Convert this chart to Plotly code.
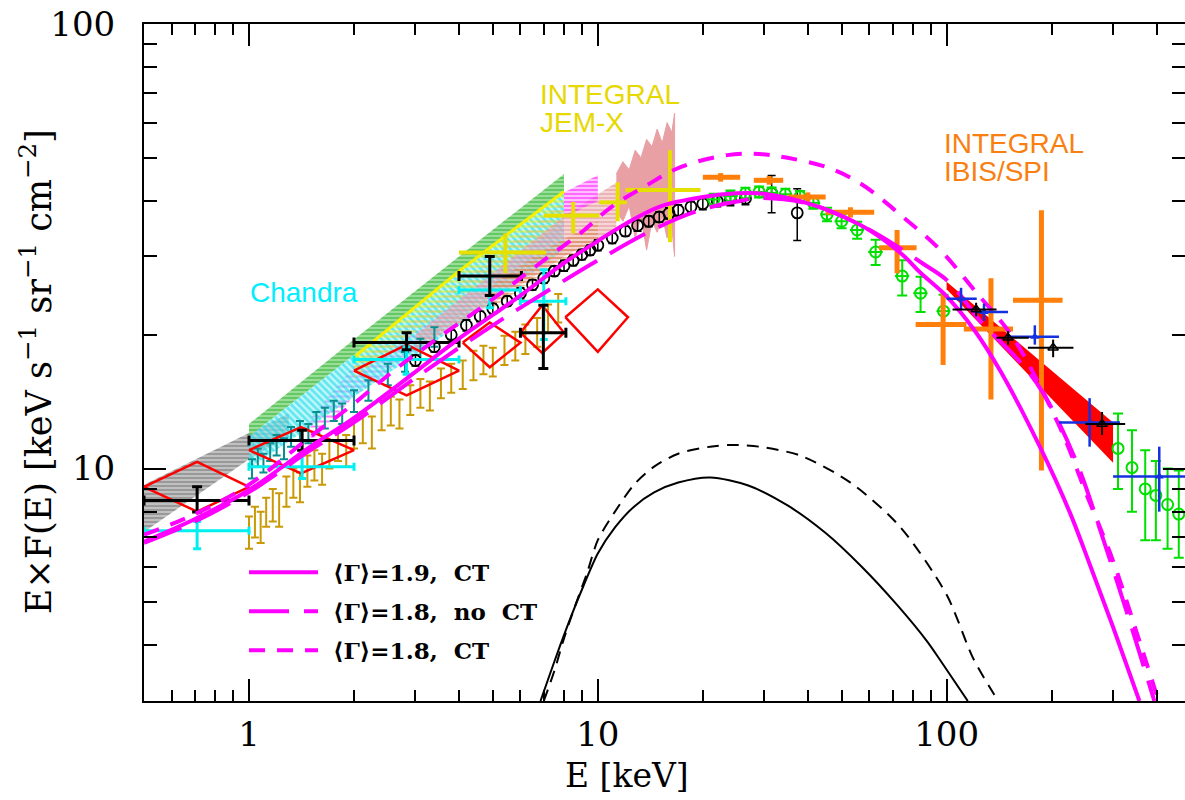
import plotly.graph_objects as go

# ---------------- data ----------------
# hatched bands: x, lower edge, upper edge
gray_x = [0.5, 1.0, 1.3]
gray_lo = [7.2, 10.5, 11.8]
gray_hi = [9.2, 12.0, 13.3]

green_x = [1.0, 2.0, 4.0, 8.0]
green_lo = [11.8, 18.0, 27.5, 42.0]
green_hi = [12.6, 19.5, 30.0, 46.0]

magband_x = [1.5, 2.0, 4.0, 8.0]
magband_lo = [11.5, 14.5, 22.0, 34.0]
magband_hi = [13.0, 17.0, 26.0, 40.0]

cyan_x = [1.0, 2.0, 4.0, 8.0]
cyan_lo = [10.0, 14.5, 21.0, 31.0]
cyan_hi = [11.8, 18.0, 27.5, 42.0]

yellow_x = [2.0, 4.0, 8.0]
yellow_lo = [16.0, 24.0, 36.0]
yellow_hi = [17.8, 27.8, 42.0]

salmon_x = [3.0, 5.0, 8.0, 11.3]
salmon_lo = [18.5, 23.5, 30.0, 34.5]
salmon_hi = [20.0, 27.5, 37.0, 44.0]

orangeband_x = [5.0, 7.0, 10.0]
orangeband_lo = [23.0, 27.5, 32.0]
orangeband_hi = [26.0, 31.0, 36.0]

maghatch_x = [8.0, 10.0]
maghatch_lo = [36.8, 40.0]
maghatch_hi = [41.8, 45.7]

pink_x = [11.3, 11.8, 12.3, 12.8, 13.3, 13.8, 14.3, 14.8, 15.3, 15.8, 16.3, 16.6]
pink_lo = [38.0, 36.0, 39.0, 33.0, 37.0, 31.0, 36.0, 34.0, 37.0, 33.0, 35.0, 30.0]
pink_hi = [46.0, 49.0, 47.0, 52.0, 50.0, 55.0, 53.0, 58.0, 54.0, 60.0, 57.0, 63.0]

redband_x = [100, 300]
redband_lo = [25.3, 10.3]
redband_hi = [26.3, 12.7]

# gold points
gold_x = [1.0, 1.04, 1.08, 1.12, 1.17, 1.22, 1.28, 1.34, 1.4, 1.47, 1.54, 1.62, 1.7, 1.8, 1.9,
          2.0, 2.12, 2.25, 2.4, 2.55, 2.7, 2.9, 3.1, 3.3, 3.55, 3.8, 4.1, 4.4, 4.7, 5.0,
          5.4, 5.8, 6.2, 6.7, 7.2, 7.7]
gold_y = [7.2, 7.6, 7.4, 8.0, 8.3, 8.1, 8.9, 9.3, 9.1, 9.9, 10.2, 10.0, 10.8, 11.3, 11.0,
          12.0, 12.4, 12.1, 13.2, 13.5, 13.3, 14.3, 14.8, 14.6, 15.6, 16.0, 16.3, 17.1, 17.6, 17.4,
          18.5, 18.9, 19.6, 20.3, 21.8, 23.0]
gold_err = [0.6, 0.6, 0.6, 0.6, 0.7, 0.7, 0.7, 0.7, 0.7, 0.8, 0.8, 0.8, 0.8, 0.9, 0.9,
            0.9, 1.0, 1.0, 1.0, 1.0, 1.0, 1.1, 1.1, 1.1, 1.2, 1.2, 1.2, 1.3, 1.3, 1.3,
            1.4, 1.4, 1.5, 1.5, 1.6, 1.7]

# teal points
teal_x = [1.02, 1.06, 1.1, 1.15, 1.2, 1.26, 1.32, 1.4, 1.48, 1.56, 1.65, 1.75, 1.85, 2.0, 2.2, 2.5, 2.8, 3.1, 3.4]
teal_y = [10.0, 10.6, 10.3, 10.9, 11.3, 11.1, 11.8, 12.2, 12.0, 12.7, 13.0, 13.5, 13.3, 14.2, 15.0, 16.3, 17.4, 18.6, 19.8]
teal_err = [0.5, 0.5, 0.5, 0.5, 0.6, 0.6, 0.6, 0.6, 0.6, 0.7, 0.7, 0.7, 0.7, 0.8, 0.8, 0.9, 0.9, 1.0, 1.0]

# black open circles
bc_x = [3.0, 3.4, 3.8, 4.2, 4.6, 5.0, 5.5, 6.0, 6.5, 7.0, 7.5, 8.0, 8.5, 9.0, 9.5, 10.0, 11.0, 12.0,
        13.0, 14.0, 15.0, 16.0, 17.0, 18.5, 20.0, 22.0, 24.0, 26.5, 31.5, 37.3]
bc_y = [17.5, 18.8, 20.0, 21.0, 22.0, 22.9, 23.8, 24.8, 25.9, 26.8, 27.8, 28.6, 29.4, 30.3, 31.0, 31.8,
        33.0, 34.2, 35.2, 36.0, 36.8, 37.5, 38.1, 38.8, 39.4, 40.0, 40.3, 40.5, 41.6, 37.6]
bc_err = [0.5, 0.5, 0.5, 0.6, 0.6, 0.6, 0.6, 0.7, 0.7, 0.7, 0.7, 0.8, 0.8, 0.8, 0.8, 0.9, 0.9, 0.9,
          1.0, 1.0, 1.0, 1.1, 1.1, 1.1, 1.2, 1.2, 1.3, 1.3, 4.0, 5.0]

# green open circles
g_x = [21.5, 24, 26.5, 29, 31.5, 34.5, 38, 41.5, 45.4, 50, 55.4, 62.6, 74.6, 84.2, 98,
       310, 340, 371, 398, 430, 463]
g_y = [40.3, 41.0, 41.6, 41.9, 41.7, 41.4, 40.9, 39.6, 37.3, 36.0, 34.4, 30.7, 27.1, 24.8, 22.6,
       11.1, 10.05, 9.0, 8.7, 8.3, 7.9]
g_err_hi = [1.2, 1.2, 1.2, 1.2, 1.2, 1.2, 1.2, 1.2, 1.3, 1.3, 1.5, 2.0, 2.3, 2.2, 2.0,
            2.2, 2.15, 2.0, 1.7, 1.7, 2.0]
g_err_lo = [1.2, 1.2, 1.2, 1.2, 1.2, 1.2, 1.2, 1.2, 1.3, 1.3, 1.5, 2.0, 2.6, 2.3, 1.6,
            2.1, 2.05, 2.1, 1.8, 1.7, 1.6]
g_xerr = [1.0, 1.2, 1.2, 1.2, 1.4, 1.5, 1.7, 1.9, 2.0, 2.3, 2.6, 3.0, 3.5, 4.0, 4.5,
          0, 0, 0, 0, 0, 0]

# red diamonds: centre, x extent, y extent
dia_x = [0.71, 1.41, 2.83, 4.9, 6.93, 10.0]
dia_xlo = [0.5, 1.0, 2.0, 4.1, 6.0, 8.07]
dia_xhi = [1.0, 2.0, 4.0, 6.0, 8.0, 12.2]
dia_y = [9.1, 11.0, 16.6, 19.2, 20.2, 21.9]
dia_ylo = [8.0, 9.75, 14.6, 16.9, 18.2, 18.3]
dia_yhi = [10.35, 12.4, 19.0, 21.3, 23.3, 25.3]

# black crosses
bk_x = [0.71, 1.42, 2.83, 4.9, 6.98]
bk_y = [8.47, 11.56, 19.2, 27.1, 20.2]
bk_xlo = [0.5, 1.0, 2.0, 4.0, 6.0]
bk_xhi = [1.0, 2.0, 4.0, 6.04, 8.1]
bk_ylo = [7.98, 11.0, 18.5, 24.5, 16.8]
bk_yhi = [9.1, 12.2, 20.2, 30.0, 23.3]

# cyan crosses
cy_x = [0.71, 1.42, 2.83, 4.9, 7.0]
cy_y = [7.25, 10.1, 17.6, 25.2, 23.8]
cy_xlo = [0.5, 1.0, 2.0, 4.0, 6.0]
cy_xhi = [1.0, 2.0, 4.0, 6.0, 8.1]
cy_ylo = [6.6, 9.5, 16.3, 23.0, 19.5]
cy_yhi = [7.6, 10.8, 18.8, 27.0, 28.0]

# yellow crosses (INTEGRAL JEM-X)
yx = [5.43, 8.5, 11.4, 16.1]
yy = [30.6, 37.1, 39.7, 42.3]
yx_lo = [4.0, 7.0, 10.1, 12.0]
yx_hi = [7.1, 10.1, 12.1, 19.7]
yy_lo = [27.5, 33.8, 36.0, 32.3]
yy_hi = [33.8, 39.8, 44.0, 52.0]

# orange crosses (INTEGRAL IBIS/SPI)
ox = [22.5, 31.0, 40.0, 53.0, 72.1, 97.7, 134.0, 187.0]
oy = [45.2, 44.5, 40.8, 37.7, 31.4, 21.1, 20.6, 23.9]
ox_lo = [20.0, 28.0, 35.0, 45.0, 64.0, 81.5, 112.0, 155.0]
ox_hi = [25.6, 34.0, 45.0, 62.0, 82.0, 114.0, 155.0, 215.0]
oy_lo = [44.2, 43.5, 39.8, 36.7, 27.5, 17.1, 14.3, 9.9]
oy_hi = [46.2, 45.5, 41.8, 38.7, 34.4, 24.9, 26.8, 38.1]

# blue crosses
bl_x = [110, 128, 179, 257, 407]
bl_y = [24.1, 22.5, 19.8, 12.7, 9.6]
bl_xlo = [100, 121, 150, 210, 300]
bl_xhi = [122, 150, 210, 314, 560]
bl_ylo = [22.8, 21.5, 19.0, 11.2, 8.0]
bl_yhi = [25.5, 23.5, 21.0, 14.4, 11.2]

# black triangles
bt_x = [121.5, 150, 202, 279]
bt_y = [22.8, 19.7, 18.7, 12.6]
bt_xlo = [104, 139, 171, 250]
bt_xhi = [139, 172, 231, 325]
bt_ylo = [22.0, 19.0, 17.8, 11.9]
bt_yhi = [23.6, 20.4, 19.5, 13.4]

# model curves
ms_x = [0.5, 0.7, 1.0, 1.5, 2, 3, 4, 6, 8, 10, 12, 15, 20, 25, 30, 40, 50, 60, 75, 84,
        100, 120, 143, 185, 225, 257, 300, 357]
ms_y = [6.85, 7.7, 8.95, 11.2, 13.0, 16.5, 19.6, 24.5, 29.0, 32.5, 35.5, 38.8, 40.8, 41.6, 41.5,
        39.5, 37.0, 34.4, 30.2, 27.6, 24.4, 20.5, 16.5, 11.2, 8.0, 6.1, 4.4, 3.0]

ml_x = [0.5, 0.7, 1, 1.5, 2, 3, 5, 7, 10, 15, 20, 25.6, 29, 40, 50, 64, 85, 102, 124, 162,
        189, 235, 280, 330, 394]
ml_y = [6.8, 7.6, 8.85, 11.0, 12.7, 16.0, 21.0, 24.8, 29.4, 35.0, 38.3, 40.0, 40.6, 39.5, 37.0,
        33.5, 29.0, 26.2, 21.6, 17.4, 14.8, 10.4, 7.0, 4.7, 3.0]

md_x = [0.5, 0.7, 1, 1.5, 2, 2.6, 3.4, 4.8, 7.2, 8.9, 10.9, 13.5, 17.2, 23.5, 29, 35, 45.4,
        56.6, 75, 96, 120, 155, 211, 251, 300, 350, 405]
md_y = [7.1, 7.9, 9.2, 11.8, 14.0, 16.6, 19.4, 23.5, 29.9, 33.8, 38.7, 42.9, 47.6, 50.7, 51.0,
        50.0, 47.6, 43.8, 36.8, 31.0, 25.2, 19.7, 12.4, 8.8, 6.2, 4.3, 3.0]

bs_x = [6.85, 7.3, 7.8, 8.4, 9.1, 10, 11.2, 12.7, 14.5, 17, 21, 27, 35, 45, 57, 72, 88, 96, 115]
bs_y = [3.0, 3.46, 4.0, 4.67, 5.45, 6.44, 7.37, 8.21, 8.84, 9.30, 9.55, 9.16, 8.26, 7.16, 6.02,
        4.94, 4.08, 3.70, 3.0]

bd_x = [7.0, 7.5, 8.0, 8.6, 9.3, 10, 11.2, 12.7, 14.5, 17, 21, 24, 29, 38, 53, 73.5, 100,
        119, 137, 141]
bd_y = [3.0, 3.5, 4.15, 4.9, 5.8, 6.9, 8.0, 9.2, 10.1, 10.8, 11.2, 11.3, 11.2, 10.7, 9.3,
        7.4, 5.2, 3.75, 3.1, 3.0]

x_ticks = [1, 10, 100]
x_ticklabels = ["1", "10", "100"]
x_minor = [0.6, 0.7, 0.8, 0.9, 2, 3, 4, 5, 6, 7, 8, 9, 20, 30, 40, 50, 60, 70, 80, 90, 200, 300, 400]
y_ticks = [10, 100]
y_ticklabels = ["10", "100"]
y_minor = [4, 5, 6, 7, 8, 9, 20, 30, 40, 50, 60, 70, 80, 90]

legend_labels = ["⟨Γ⟩=1.9,  CT", "⟨Γ⟩=1.8,  no  CT", "⟨Γ⟩=1.8,  CT"]

# ---------------- figure ----------------
fig = go.Figure()


def band(x, lo, hi, color, shape, size=5, solidity=0.45, bg="rgba(0,0,0,0)"):
    fig.add_trace(go.Scatter(
        x=list(x) + list(x)[::-1], y=list(hi) + list(lo)[::-1],
        fill="toself", mode="lines", line=dict(width=0, color=color),
        fillcolor=bg,
        fillpattern=dict(shape=shape, fgcolor=color, bgcolor=bg,
                         size=size, solidity=solidity),
        hoverinfo="skip", showlegend=False))


band(gray_x, gray_lo, gray_hi, "#6e6e6e", "-", 4, 0.55, "#c4c4c4")
band(green_x, green_lo, green_hi, "#22b022", "-", 4, 0.6, "#a6e2a6")
band(magband_x, magband_lo, magband_hi, "#ff00ff", "-", 5, 0.4)
band(cyan_x, cyan_lo, cyan_hi, "#00d8e6", "\\", 5, 0.55, "rgba(150,240,248,0.55)")
band(yellow_x, yellow_lo, yellow_hi, "#f5f000", "-", 5, 0.45)
band(salmon_x, salmon_lo, salmon_hi, "#e08a8f", "-", 4, 0.6, "rgba(240,190,190,0.5)")
band(orangeband_x, orangeband_lo, orangeband_hi, "#d9803a", "-", 4, 0.55)
band(maghatch_x, maghatch_lo, maghatch_hi, "#ff00ff", "-", 4, 0.6, "rgba(255,170,255,0.5)")

# yellow band edge
fig.add_trace(go.Scatter(x=yellow_x, y=yellow_hi, mode="lines",
                         line=dict(color="#f5f000", width=3), hoverinfo="skip", showlegend=False))

# noisy pink spectrum
fig.add_trace(go.Scatter(x=pink_x + pink_x[::-1], y=pink_hi + pink_lo[::-1], fill="toself",
                         mode="lines", line=dict(width=1, color="#e8a0a4"), fillcolor="#e8a0a4",
                         hoverinfo="skip", showlegend=False))


def errpts(x, y, lo=None, hi=None, xlo=None, xhi=None, color="black", thick=2, width=4,
           marker=None, ysym=None, xsym=None):
    kw = {}
    if ysym is not None:
        kw["error_y"] = dict(type="data", array=ysym, color=color, thickness=thick, width=width)
    elif lo is not None:
        kw["error_y"] = dict(type="data", symmetric=False,
                             array=[h - v for h, v in zip(hi, y)],
                             arrayminus=[v - l for v, l in zip(y, lo)],
                             color=color, thickness=thick, width=width)
    if xsym is not None:
        kw["error_x"] = dict(type="data", array=xsym, color=color, thickness=thick, width=0)
    elif xlo is not None:
        kw["error_x"] = dict(type="data", symmetric=False,
                             array=[h - v for h, v in zip(xhi, x)],
                             arrayminus=[v - l for v, l in zip(x, xlo)],
                             color=color, thickness=thick, width=width)
    if marker is None:
        marker = dict(size=1, color=color, opacity=0)
    fig.add_trace(go.Scatter(x=x, y=y, mode="markers", marker=marker, hoverinfo="skip",
                             showlegend=False, **kw))


# gold & teal points
errpts(gold_x, gold_y, ysym=gold_err, color="#c99a06", thick=2, width=4)
errpts(teal_x, teal_y, ysym=teal_err, color="#0a8f8f", thick=2, width=4)

# black open circles
errpts(bc_x, bc_y, ysym=bc_err, color="black", thick=1.5, width=4,
       marker=dict(symbol="circle-open", size=11, color="black", line=dict(width=1.8)))

# red band (high energy)
fig.add_trace(go.Scatter(x=redband_x + redband_x[::-1], y=redband_hi + redband_lo[::-1],
                         fill="toself", mode="lines", line=dict(width=0, color="red"),
                         fillcolor="#ff0000", hoverinfo="skip", showlegend=False))

# red diamonds
dx, dy = [], []
for i in range(len(dia_x)):
    dx += [dia_xlo[i], dia_x[i], dia_xhi[i], dia_x[i], dia_xlo[i], None]
    dy += [dia_y[i], dia_yhi[i], dia_y[i], dia_ylo[i], dia_y[i], None]
fig.add_trace(go.Scatter(x=dx, y=dy, mode="lines", line=dict(color="#ff0000", width=2.5),
                         hoverinfo="skip", showlegend=False))

# green circles
errpts(g_x, g_y, lo=[v - e for v, e in zip(g_y, g_err_lo)], hi=[v + e for v, e in zip(g_y, g_err_hi)],
       xsym=g_xerr, color="#00e000", thick=2, width=5,
       marker=dict(symbol="circle-open", size=11, color="#00e000", line=dict(width=2)))

# crosses
errpts(cy_x, cy_y, cy_ylo, cy_yhi, cy_xlo, cy_xhi, color="#00f0f0", thick=3, width=4)
errpts(yx, yy, yy_lo, yy_hi, yx_lo, yx_hi, color="#e6e000", thick=4, width=0)
errpts(ox, oy, oy_lo, oy_hi, ox_lo, ox_hi, color="#ff7f0a", thick=5, width=0)
errpts(bk_x, bk_y, bk_ylo, bk_yhi, bk_xlo, bk_xhi, color="black", thick=3, width=5)

# model curves
fig.add_trace(go.Scatter(x=bs_x, y=bs_y, mode="lines",
                         line=dict(color="black", width=2, shape="spline", smoothing=0.8),
                         hoverinfo="skip", showlegend=False))
fig.add_trace(go.Scatter(x=bd_x, y=bd_y, mode="lines",
                         line=dict(color="black", width=2, shape="spline", smoothing=0.8, dash="12px,8px"),
                         hoverinfo="skip", showlegend=False))
fig.add_trace(go.Scatter(x=ms_x, y=ms_y, mode="lines", line=dict(color="#ff00ff", width=4, shape="spline"),
                         hoverinfo="skip", showlegend=False))
fig.add_trace(go.Scatter(x=ml_x, y=ml_y, mode="lines",
                         line=dict(color="#ff00ff", width=4, shape="spline", dash="40px,15px"),
                         hoverinfo="skip", showlegend=False))
fig.add_trace(go.Scatter(x=md_x, y=md_y, mode="lines",
                         line=dict(color="#ff00ff", width=4, shape="spline", dash="16px,12px"),
                         hoverinfo="skip", showlegend=False))

# blue crosses and black triangles
errpts(bl_x, bl_y, bl_ylo, bl_yhi, bl_xlo, bl_xhi, color="#1530e0", thick=2.5, width=0,
       marker=dict(symbol="triangle-up", size=8, color="#1530e0"))
errpts(bt_x, bt_y, bt_ylo, bt_yhi, bt_xlo, bt_xhi, color="black", thick=2, width=0,
       marker=dict(symbol="triangle-up-open", size=9, color="black", line=dict(width=1.5)))

# ---------------- layout ----------------
# page pixel geometry of the plot area (page body margin removed in post_script)
L, R, T, B = 144, 1185, 24, 700.7
FIG_W, FIG_H = 1185, 800


def pxx(p):
    return (p - L) / (R - L)


def pxy(p):
    return (B - p) / (B - T)


serif = "DejaVu Serif"
axis_common = dict(type="log", showline=True, linewidth=2, linecolor="black", mirror="ticks",
                   ticks="inside", ticklen=22, tickwidth=2, tickcolor="black", automargin=False,
                   ticklabeloverflow="allow",
                   showgrid=False, zeroline=False, tickfont=dict(family=serif, size=34, color="black"))

fig.update_layout(
    width=FIG_W, height=FIG_H,
    margin=dict(l=L, r=0, t=T, b=FIG_H - B, pad=0, autoexpand=False),
    paper_bgcolor="white", plot_bgcolor="white",
    showlegend=False,
    xaxis=dict(range=[-0.30103, 2.6834], tickvals=x_ticks, ticktext=x_ticklabels,
               minor=dict(tickmode="array", tickvals=x_minor, ticks="inside", ticklen=11,
                          tickwidth=2, tickcolor="black", showgrid=False),
               ticklabelstandoff=2, **axis_common),
    yaxis=dict(range=[0.47712, 2.0], tickvals=y_ticks, ticktext=y_ticklabels,
               minor=dict(tickmode="array", tickvals=y_minor, ticks="inside", ticklen=13,
                          tickwidth=2, tickcolor="black", showgrid=False),
               ticklabelstandoff=20, **axis_common),
)

ann = []
ann.append(dict(text="E [keV]", x=pxx(627), y=pxy(775), xref="paper", yref="paper",
                showarrow=False, font=dict(family=serif, size=33, color="black"),
                xanchor="center", yanchor="middle"))
ann.append(dict(text="E×F(E) [keV s<sup>−1</sup> sr<sup>−1</sup> cm<sup>−2</sup>]",
                x=pxx(36), y=pxy(372), xref="paper", yref="paper", textangle=-90,
                showarrow=False, font=dict(family=serif, size=35, color="black"),
                xanchor="center", yanchor="middle"))
sans = "Liberation Sans"
ann.append(dict(text="Chandra", x=pxx(248), y=pxy(292), xref="paper", yref="paper", showarrow=False,
                font=dict(family=sans, size=28, color="#00eeff"), xanchor="left", yanchor="middle"))
ann.append(dict(text="INTEGRAL", x=pxx(538), y=pxy(94), xref="paper", yref="paper", showarrow=False,
                font=dict(family=sans, size=28, color="#e6d800"), xanchor="left", yanchor="middle"))
ann.append(dict(text="JEM-X", x=pxx(538), y=pxy(122), xref="paper", yref="paper", showarrow=False,
                font=dict(family=sans, size=28, color="#e6d800"), xanchor="left", yanchor="middle"))
ann.append(dict(text="INTEGRAL", x=pxx(942), y=pxy(143), xref="paper", yref="paper", showarrow=False,
                font=dict(family=sans, size=28, color="#f98010"), xanchor="left", yanchor="middle"))
ann.append(dict(text="IBIS/SPI", x=pxx(942), y=pxy(171), xref="paper", yref="paper", showarrow=False,
                font=dict(family=sans, size=28, color="#f98010"), xanchor="left", yanchor="middle"))

shapes = []
leg_y = [572, 611, 650]
leg_dash = ["solid", "40px,15px", "16px,12px"]
for yy_, d, lab in zip(leg_y, leg_dash, legend_labels):
    shapes.append(dict(type="line", xref="paper", yref="paper", x0=pxx(249), x1=pxx(318),
                       y0=pxy(yy_), y1=pxy(yy_), line=dict(color="#ff00ff", width=4, dash=d)))
    ann.append(dict(text="<b>" + lab + "</b>", x=pxx(331), y=pxy(yy_), xref="paper", yref="paper",
                    showarrow=False, font=dict(family=serif, size=23, color="black"),
                    xanchor="left", yanchor="middle"))

fig.update_layout(annotations=ann, shapes=shapes)
fig.write_html("out.html",
               config={"displayModeBar": False, "staticPlot": True},
               post_script="document.body.style.margin='0px';document.body.style.overflow='hidden';")
